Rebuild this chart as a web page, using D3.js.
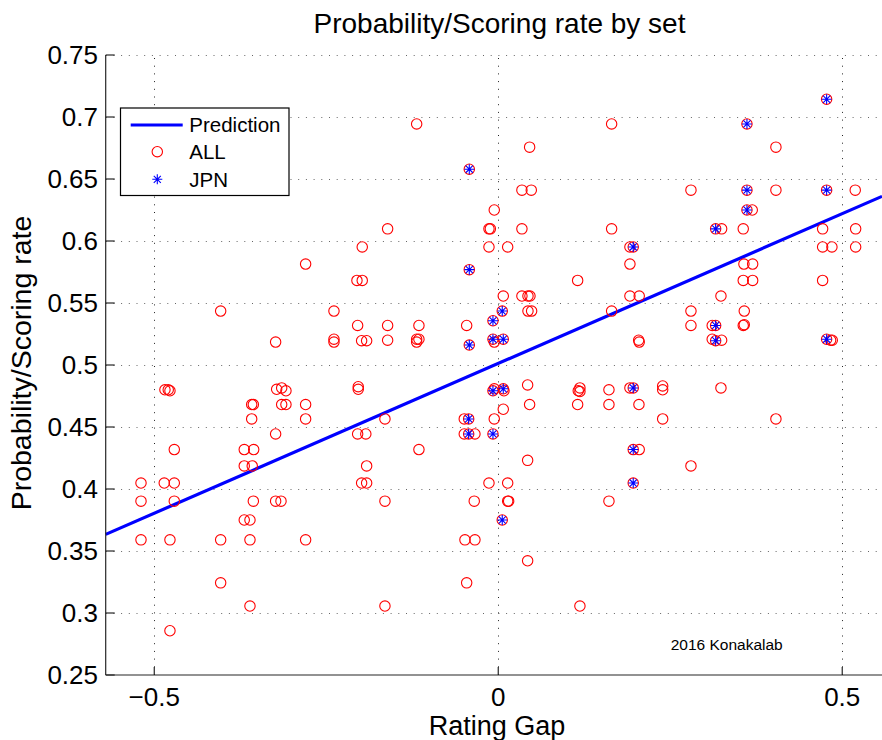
<!DOCTYPE html>
<html><head><meta charset="utf-8">
<script src="https://cdn.jsdelivr.net/npm/d3@7"></script>
<style>body{margin:0;background:#fff}svg{display:block}text{font-family:"Liberation Sans",Arial,Helvetica,sans-serif}</style>
</head><body>
<svg id="c" width="882" height="740"></svg>
<script>
// ---- data ----
const xTicks = [-0.5, 0, 0.5];
const xTickLabels = ["\u22120.5", "0", "0.5"];
const yTicks = [0.25, 0.3, 0.35, 0.4, 0.45, 0.5, 0.55, 0.6, 0.65, 0.7, 0.75];
const yTickLabels = ["0.25","0.3","0.35","0.4","0.45","0.5","0.55","0.6","0.65","0.7","0.75"];
const predX = [-0.5706, 0.5578];
const predY = [0.3634, 0.6360];
const allX = [
 -0.1186,0.1648,0.0456,-0.0421,0.0344,0.0480,-0.0058,0.4773,0.3615,0.4036,0.2801,0.3615,0.4036,0.4773,0.5189,0.3615,0.3692,
 -0.1977,-0.28,-0.2054,-0.1977,-0.4035,-0.2388,-0.2044,-0.3236,-0.2388,-0.2388,
 -0.1608,-0.0135,-0.0115,0.0344,0.1648,-0.0135,0.0137,-0.0421,0.1154,0.0073,0.0344,0.0432,0.0461,0.0432,0.0485,0.0058,0.1648,
 -0.1608,-0.1153,-0.0459,-0.0077,-0.1986,-0.1913,-0.1608,-0.1186,-0.1153,-0.1186,-0.0421,-0.0077,-0.0058,0.0073,
 0.316,0.3247,0.3561,0.4715,0.5195,0.1914,0.1962,0.4715,0.485,0.5195,0.1914,0.3571,0.3698,0.3561,0.3698,0.4715,
 0.1914,0.2049,0.3237,0.2801,0.3576,0.2801,0.311,0.316,0.3561,0.3576,0.2041,0.2049,0.311,0.316,0.3247,0.4773,0.4831,0.4855,
 -0.4845,-0.4797,-0.4772,-0.3221,-0.3148,-0.3086,-0.2035,-0.2035,-0.3584,-0.356,-0.3148,-0.3086,-0.28,-0.3584,-0.28,
 -0.3236,-0.2044,-0.1925,-0.4709,-0.3692,-0.3555,-0.3692,-0.3576,-0.1913,-0.5193,-0.4855,-0.4709,-0.1986,-0.1913,
 -0.5193,-0.4709,-0.356,-0.3236,-0.3158,-0.3692,-0.3609,
 -0.0077,-0.0058,0.0073,0.0083,0.0427,0.1163,0.1187,0.1187,0.1609,0.0073,0.0456,0.1154,0.1609,-0.1647,-0.0494,-0.043,-0.0058,
 -0.0494,-0.043,-0.0339,-0.0077,-0.1153,0.0427,-0.0135,0.0137,-0.1647,-0.0349,0.0137,0.0151,0.1609,0.0058,
 0.1914,0.1962,0.239,0.239,0.3237,0.2045,0.239,0.4036,0.1962,0.2049,0.2801,0.1962,
 -0.5193,-0.4772,-0.4035,-0.3609,-0.28,-0.4035,-0.3609,-0.4772,
 -0.0484,-0.0339,0.0427,-0.0459,-0.1647,0.1187
];
const allY = [
 0.6944,0.6944,0.6757,0.6579,0.641,0.641,0.625,0.7143,0.6944,0.6757,0.641,0.641,0.641,0.641,0.641,0.625,0.625,
 0.5952,0.5814,0.5682,0.5682,0.5435,0.5435,0.5319,0.5185,0.5208,0.5185,
 0.6098,0.6098,0.6098,0.6098,0.6098,0.5952,0.5952,0.5769,0.5682,0.5556,0.5556,0.5556,0.5556,0.5435,0.5435,0.5435,0.5435,
 0.5319,0.5319,0.5319,0.5357,0.5196,0.5196,0.52,0.5208,0.5208,0.5185,0.5161,0.5208,0.5185,0.5208,
 0.6098,0.6098,0.6098,0.6098,0.6098,0.5952,0.5952,0.5952,0.5952,0.5952,0.5814,0.5814,0.5814,0.5682,0.5682,0.5682,
 0.5556,0.5556,0.5556,0.5435,0.5435,0.5319,0.5319,0.5319,0.5319,0.5325,0.52,0.5185,0.5208,0.5196,0.52,0.5208,0.52,0.52,
 0.48,0.48,0.4792,0.4804,0.4815,0.4792,0.4825,0.4804,0.4681,0.4681,0.4681,0.4681,0.4681,0.4565,0.4565,
 0.4444,0.4444,0.4444,0.4318,0.4318,0.4318,0.4186,0.4186,0.4186,0.4048,0.4048,0.4048,0.4048,0.4048,
 0.3902,0.3902,0.3902,0.3902,0.3902,0.375,0.375,
 0.4792,0.4808,0.4808,0.4792,0.4839,0.4792,0.4815,0.4786,0.48,0.4643,0.4681,0.4681,0.4681,0.4565,0.4565,0.4565,0.4565,
 0.4444,0.4444,0.4444,0.4444,0.4318,0.4231,0.4048,0.4048,0.3902,0.3902,0.3902,0.3902,0.3902,0.375,
 0.4815,0.4815,0.4831,0.48,0.4815,0.4681,0.4565,0.4565,0.4318,0.4318,0.4186,0.4048,
 0.359,0.359,0.359,0.359,0.359,0.3243,0.3056,0.2857,
 0.359,0.359,0.3421,0.3243,0.3056,0.3056
];
const jpnX = [0.4773,0.3615,-0.0421,0.3615,0.4773,0.3615,0.316,0.1962,-0.0421,0.0058,-0.0077,-0.0421,-0.0077,0.0073,
 0.316,0.316,0.4773,-0.0077,0.0073,-0.043,-0.043,-0.0077,0.1962,0.1962,0.1962,0.0058];
const jpnY = [0.7143,0.6944,0.6579,0.641,0.641,0.625,0.6098,0.5952,0.5769,0.5435,0.5357,0.5161,0.5208,0.5208,
 0.5319,0.5196,0.5208,0.4792,0.4808,0.4565,0.4444,0.4444,0.4815,0.4318,0.4048,0.375];
const titleText = "Probability/Scoring rate by set";
const xLabel = "Rating Gap";
const yLabel = "Probability/Scoring rate";
const legendItems = ["Prediction", "ALL", "JPN"];
const credit = "2016 Konakalab";

// ---- drawing ----
const svg = d3.select("#c");
const L = 105.7, R = 882, T = 55, B = 675;
const x = d3.scaleLinear().domain([-0.5706, 0.5578]).range([L, R]);
const y = d3.scaleLinear().domain([0.25, 0.75]).range([B, T]);
const axisCol = "#262626";

// grid
const g = svg.append("g");
g.selectAll(".hg").data(yTicks.slice(1)).enter().append("line")
  .attr("x1", L).attr("x2", R).attr("y1", d => Math.round(y(d)) + 0.5).attr("y2", d => Math.round(y(d)) + 0.5)
  .attr("stroke", "#666").attr("stroke-width", 1).attr("stroke-dasharray", "1,6.7");
g.selectAll(".vg").data(xTicks).enter().append("line")
  .attr("y1", B).attr("y2", T).attr("x1", d => Math.round(x(d)) + 0.5).attr("x2", d => Math.round(x(d)) + 0.5)
  .attr("stroke", "#222").attr("stroke-width", 1).attr("stroke-dasharray", "1,6.7");

// prediction line
const line = d3.line().x(d => x(d[0])).y(d => y(d[1]));
svg.append("path").datum(predX.map((v, i) => [v, predY[i]]))
  .attr("d", line).attr("stroke", "#0000ff").attr("stroke-width", 3.2).attr("fill", "none");

// ALL circles
svg.append("g").selectAll("circle").data(allX.map((v, i) => [v, allY[i]])).enter().append("circle")
  .attr("cx", d => x(d[0])).attr("cy", d => y(d[1])).attr("r", 5.2)
  .attr("fill", "none").attr("stroke", "#ff0000").attr("stroke-width", 1.1);

// JPN asterisks
const star = d3.symbol().type({draw(ctx, size) {
  const r = Math.sqrt(size);
  const a = r * Math.SQRT1_2;
  ctx.moveTo(-r, 0); ctx.lineTo(r, 0);
  ctx.moveTo(0, -r); ctx.lineTo(0, r);
  ctx.moveTo(-a, -a); ctx.lineTo(a, a);
  ctx.moveTo(-a, a); ctx.lineTo(a, -a);
}}).size(25);
svg.append("g").selectAll("path").data(jpnX.map((v, i) => [v, jpnY[i]])).enter().append("path")
  .attr("transform", d => `translate(${x(d[0])},${y(d[1])})`).attr("d", star)
  .attr("stroke", "#0000ff").attr("stroke-width", 1.1).attr("fill", "none");

// axes
svg.append("line").attr("x1", L).attr("x2", L).attr("y1", T).attr("y2", B).attr("stroke", axisCol).attr("stroke-width", 1.2);
svg.append("line").attr("x1", L).attr("x2", R).attr("y1", B).attr("y2", B).attr("stroke", axisCol).attr("stroke-width", 1.2);
svg.selectAll(".yt").data(yTicks).enter().append("line")
  .attr("x1", L).attr("x2", L + 9).attr("y1", d => y(d)).attr("y2", d => y(d)).attr("stroke", axisCol).attr("stroke-width", 1.2);
svg.selectAll(".xt").data(xTicks).enter().append("line")
  .attr("y1", B).attr("y2", B - 8).attr("x1", d => x(d)).attr("x2", d => x(d)).attr("stroke", axisCol).attr("stroke-width", 1.2);

svg.selectAll(".ytl").data(yTicks).enter().append("text")
  .attr("x", 98).attr("y", d => y(d)).attr("dy", "0.36em").attr("text-anchor", "end")
  .attr("font-size", 26).text((d, i) => yTickLabels[i]);
svg.selectAll(".xtl").data(xTicks).enter().append("text")
  .attr("x", d => x(d)).attr("y", 706).attr("text-anchor", "middle")
  .attr("font-size", 26).text((d, i) => xTickLabels[i]);

svg.append("text").attr("x", 499.5).attr("y", 33).attr("text-anchor", "middle").attr("font-size", 28).text(titleText);
svg.append("text").attr("x", 497).attr("y", 735).attr("text-anchor", "middle").attr("font-size", 27).text(xLabel);
svg.append("text").attr("transform", "translate(31,363) rotate(-90)").attr("text-anchor", "middle").attr("font-size", 28.5).text(yLabel);

svg.append("text").attr("x", 670.7).attr("y", 650).attr("font-size", 15.5).text(credit);

// legend
const lg = svg.append("g");
lg.append("rect").attr("x", 120.5).attr("y", 108).attr("width", 168.5).attr("height", 87.5)
  .attr("fill", "#fff").attr("stroke", "#000").attr("stroke-width", 1.2);
const rows = [125, 151.7, 179.3];
lg.append("line").attr("x1", 130.7).attr("x2", 182.7).attr("y1", rows[0]).attr("y2", rows[0]).attr("stroke", "#0000ff").attr("stroke-width", 3.2);
lg.append("circle").attr("cx", 157.3).attr("cy", rows[1]).attr("r", 5.2).attr("fill", "none").attr("stroke", "#ff0000").attr("stroke-width", 1.1);
lg.append("path").attr("transform", `translate(157.3,${rows[2]})`).attr("d", star).attr("stroke", "#0000ff").attr("stroke-width", 1.1).attr("fill", "none");
lg.selectAll(".lt").data(legendItems).enter().append("text")
  .attr("x", 189.3).attr("y", (d, i) => rows[i]).attr("dy", "0.36em").attr("font-size", 20.5).text(d => d);
</script>
</body></html>
